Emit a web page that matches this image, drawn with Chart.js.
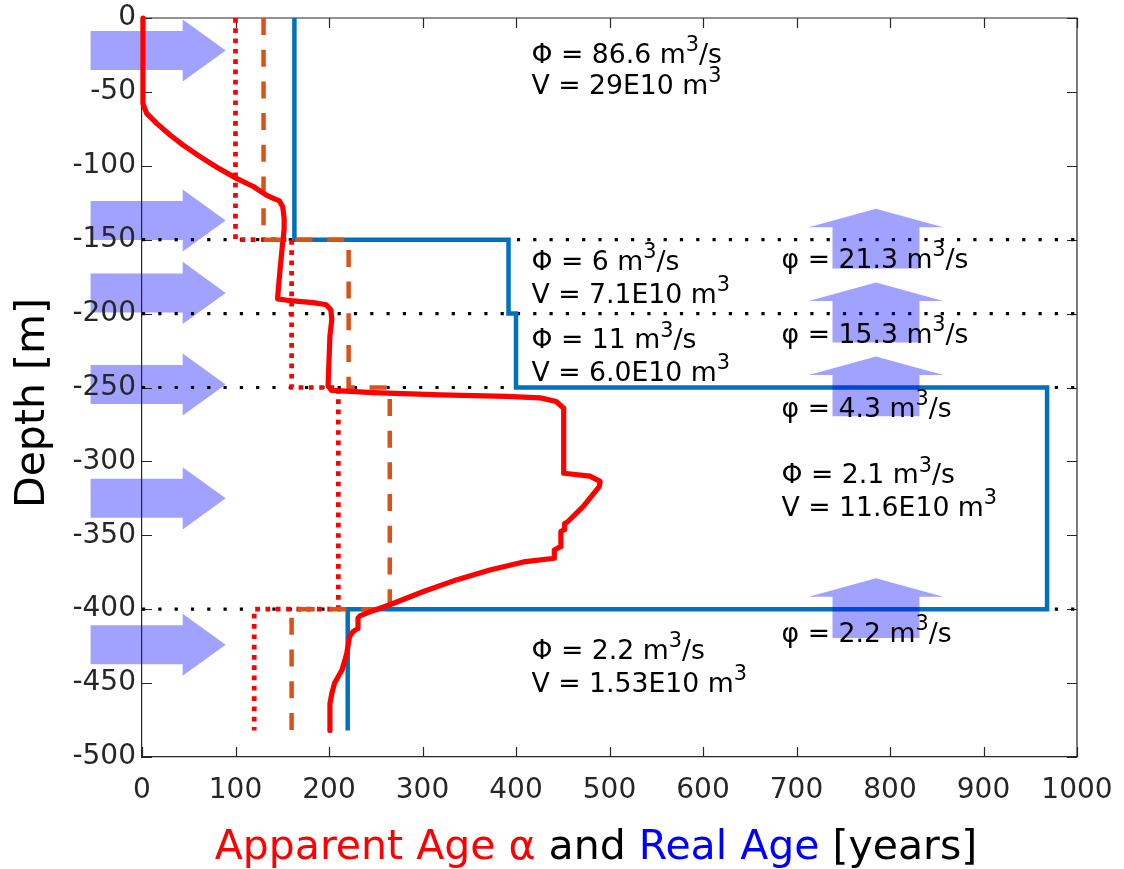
<!DOCTYPE html>
<html>
<head>
<meta charset="utf-8">
<script src="https://cdn.jsdelivr.net/npm/chart.js@4.4.1/dist/chart.umd.min.js"></script>
<style>
  html, body { margin: 0; padding: 0; background: #ffffff; }
  #wrap { position: relative; width: 1124px; height: 869px; }
</style>
</head>
<body>
<div id="wrap"><canvas id="chart"></canvas></div>
<script>
// ---- data -------------------------------------------------------------
// Apparent age profile (solid red)
const apparentAge = [1, 1, 5, 15.7, 30, 44, 62, 80, 101, 119, 133, 140.5, 147, 150.5, 152, 152, 150, 148, 146, 145, 155, 183, 197, 202, 203, 201, 199, 203, 247, 319, 390, 426, 443, 451, 451, 479, 490, 489, 472, 455, 452, 452, 448, 448, 441, 441, 408, 372, 337, 301, 265, 247, 233, 231, 231, 226, 222, 219, 214, 206, 203, 201, 201];
const apparentDepth = [0, -58, -64.5, -71.3, -79.2, -86, -93.8, -101, -108.5, -114, -119.8, -122, -123.8, -127.7, -135.5, -143, -155, -168, -182, -190, -191, -192.6, -194, -197.5, -204, -215, -249, -252, -253.5, -255, -256, -257, -259.5, -264, -308, -310, -313.5, -317, -330.5, -341, -342, -346, -347.5, -357.5, -360, -365.5, -368, -373.5, -380, -388, -397, -401, -404.5, -406, -413, -415, -418.5, -430, -441, -450, -457, -464, -482];

// Real age per layer (solid blue)
const realAge = [163, 163, 392, 392, 400, 400, 968, 968, 220, 220];
const realDepth = [0, -150, -150, -200, -200, -250, -250, -400, -400, -482];

// Layer-average apparent age (dotted red)
const meanApparentAge = [100, 100, 160, 160, 210, 210, 120, 120];
// Layer-average apparent age, second estimate (dashed orange)
const meanApparentAge2 = [130, 130, 221, 221, 265, 265, 160, 160];
const layerStepDepth = [0, -150, -150, -250, -250, -400, -400, -482];

// Layer interfaces
const interfaceDepths = [-150, -200, -250, -400];
const interfaceAgeSpan = [0, 1000];

// Lateral inflow arrows (depth of each arrow)
const inflowDepths = [-22, -137, -186, -248, -325, -424];
// Upward exchange arrows (at interfaces)
const upflowDepths = [-150, -200, -250, -400];
const upflowAge = 785;

// Layer annotations
const noteText = [
  'Φ = 86.6 m^3/s', 'V = 29E10 m^3',
  'Φ = 6 m^3/s', 'V = 7.1E10 m^3',
  'Φ = 11 m^3/s', 'V = 6.0E10 m^3',
  'Φ = 2.1 m^3/s', 'V = 11.6E10 m^3',
  'Φ = 2.2 m^3/s', 'V = 1.53E10 m^3',
  'φ = 21.3 m^3/s', 'φ = 15.3 m^3/s', 'φ = 4.3 m^3/s', 'φ = 2.2 m^3/s'
];
const noteAge = [416.5, 416.5, 416.5, 416.5, 416.5, 416.5, 684, 684, 416.5, 416.5, 684, 684, 684, 684];
const noteDepth = [-30.2, -51.4, -170.5, -192.6, -223.5, -245.4, -314.8, -336.7, -433.7, -455.8, -169.3, -220, -269.7, -421.9];

// Axis ticks
const xTicks = [0, 100, 200, 300, 400, 500, 600, 700, 800, 900, 1000];
const yTicks = [0, -50, -100, -150, -200, -250, -300, -350, -400, -450, -500];

// ---- helpers -----------------------------------------------------------
const FONT = '"DejaVu Sans", "Noto Sans", sans-serif';
const AXIS_COLOR = '#262626';
const ARROW_FILL = 'rgba(0, 0, 255, 0.37)';

function pairs(xs, ys) { return xs.map((x, i) => ({ x: x, y: ys[i] })); }

// Text with "^c" superscripts
function drawRich(ctx, text, x, y, size) {
  const parts = text.split(/\^(\S)/);
  let cx = x;
  ctx.textAlign = 'left';
  ctx.textBaseline = 'alphabetic';
  parts.forEach((p, i) => {
    const sup = i % 2 === 1;
    ctx.font = (sup ? size * 0.78 : size) + 'px ' + FONT;
    ctx.fillText(p, cx, sup ? y - size * 0.44 : y);
    cx += ctx.measureText(p).width;
  });
}

function polygon(ctx, pts) {
  ctx.beginPath();
  pts.forEach((p, i) => (i ? ctx.lineTo(p[0], p[1]) : ctx.moveTo(p[0], p[1])));
  ctx.closePath();
  ctx.fill();
}

const decor = {
  id: 'decor',
  beforeDraw(chart) {
    // horizontal inflow arrows
    const ctx = chart.ctx, xs = chart.scales.x, ys = chart.scales.y;
    const X = v => xs.getPixelForValue(v), Y = v => ys.getPixelForValue(v);
    ctx.save();
    ctx.fillStyle = ARROW_FILL;
    inflowDepths.forEach(d => {
      polygon(ctx, [
        [X(-55), Y(d + 13.2)], [X(43.5), Y(d + 13.2)], [X(43.5), Y(d + 21)],
        [X(89.5), Y(d)],
        [X(43.5), Y(d - 21)], [X(43.5), Y(d - 13.2)], [X(-55), Y(d - 13.2)]
      ]);
    });
    ctx.restore();
  },
  beforeDatasetsDraw(chart) {
    // box outline and inward ticks
    const ctx = chart.ctx, a = chart.chartArea, xs = chart.scales.x, ys = chart.scales.y;
    ctx.save();
    ctx.strokeStyle = AXIS_COLOR;
    ctx.lineWidth = 1.2;
    ctx.beginPath();
    ctx.moveTo(a.left, a.top); ctx.lineTo(a.right, a.top); ctx.lineTo(a.right, a.bottom);
    const tl = 10;
    xTicks.forEach(v => {
      const px = Math.round(xs.getPixelForValue(v)) + 0.5;
      ctx.moveTo(px, a.bottom); ctx.lineTo(px, a.bottom - tl);
      ctx.moveTo(px, a.top); ctx.lineTo(px, a.top + tl);
    });
    yTicks.forEach(v => {
      const py = Math.round(ys.getPixelForValue(v)) + 0.5;
      ctx.moveTo(a.left, py); ctx.lineTo(a.left + tl, py);
      ctx.moveTo(a.right, py); ctx.lineTo(a.right - tl, py);
    });
    ctx.stroke();
    ctx.restore();
  },
  afterDatasetsDraw(chart) {
    const ctx = chart.ctx, xs = chart.scales.x, ys = chart.scales.y;
    const X = v => xs.getPixelForValue(v), Y = v => ys.getPixelForValue(v);
    ctx.save();
    // upward exchange arrows
    ctx.fillStyle = ARROW_FILL;
    upflowDepths.forEach(d => {
      polygon(ctx, [
        [X(upflowAge - 46.5), Y(d - 19.5)], [X(upflowAge + 46.5), Y(d - 19.5)],
        [X(upflowAge + 46.5), Y(d + 8.5)], [X(upflowAge + 72), Y(d + 8.5)],
        [X(upflowAge), Y(d + 21)],
        [X(upflowAge - 72), Y(d + 8.5)], [X(upflowAge - 46.5), Y(d + 8.5)]
      ]);
    });
    // annotations
    ctx.fillStyle = '#000000';
    noteText.forEach((t, i) => drawRich(ctx, t, X(noteAge[i]), Y(noteDepth[i]), 26.7));
    ctx.restore();
  },
  afterDraw(chart) {
    const ctx = chart.ctx;
    ctx.save();
    // y axis title
    ctx.font = '41px ' + FONT;
    ctx.fillStyle = '#000000';
    ctx.textAlign = 'center';
    ctx.textBaseline = 'alphabetic';
    ctx.translate(44, 403);
    ctx.rotate(-Math.PI / 2);
    ctx.fillText('Depth [m]', 0, 0);
    ctx.restore();
    // x axis title in several colours
    ctx.save();
    ctx.font = '41px ' + FONT;
    ctx.textBaseline = 'alphabetic';
    ctx.textAlign = 'left';
    const segs = [['Apparent Age α', '#ff0000'], [' and ', '#000000'], ['Real Age', '#0000ff'], [' [years]', '#000000']];
    const total = segs.reduce((s, g) => s + ctx.measureText(g[0]).width, 0);
    let cx = 596 - total / 2;
    segs.forEach(g => { ctx.fillStyle = g[1]; ctx.fillText(g[0], cx, 859); cx += ctx.measureText(g[0]).width; });
    ctx.restore();
  }
};

// ---- chart -------------------------------------------------------------
const datasets = [];
// drawn bottom to top: higher order values are drawn first
interfaceDepths.forEach(d => datasets.push({
  data: pairs(interfaceAgeSpan, [d, d]),
  borderColor: '#000000', borderWidth: 3.2, borderDash: [3.2, 13.1], order: 10
}));
datasets.push({ data: pairs(realAge, realDepth), borderColor: '#0072BD', borderWidth: 4.5, order: 4 });
datasets.push({ data: pairs(meanApparentAge, layerStepDepth), borderColor: '#ff0000', borderWidth: 4.7, borderDash: [4.7, 5.6], order: 3 });
datasets.push({ data: pairs(meanApparentAge2, layerStepDepth), borderColor: '#D95319', borderWidth: 4.5, borderDash: [17, 14.7], order: 2 });
datasets.push({ data: pairs(apparentAge, apparentDepth), borderColor: '#ff0000', borderWidth: 5.2, borderJoinStyle: 'round', borderCapStyle: 'butt', order: 1 });
datasets.forEach(ds => { ds.pointRadius = 0; ds.tension = 0; ds.fill = false; ds.clip = false; });

new Chart(document.getElementById('chart'), {
  type: 'line',
  data: { datasets: datasets },
  options: {
    responsive: true,
    maintainAspectRatio: false,
    animation: false,
    layout: { padding: { top: 18, right: 47, left: 0, bottom: 0 } },
    plugins: { legend: { display: false }, tooltip: { enabled: false } },
    scales: {
      x: {
        type: 'linear', min: 0, max: 1000,
        afterBuildTicks: s => { s.ticks = xTicks.map(v => ({ value: v })); },
        afterFit: s => { s.height = 112; s.paddingLeft = 0; s.paddingRight = 0; },
        grid: { display: false, drawTicks: false },
        border: { display: true, color: AXIS_COLOR, width: 1.2 },
        ticks: { autoSkip: false, maxRotation: 0, padding: 17, color: AXIS_COLOR,
                 font: { family: FONT, size: 28 }, callback: v => String(v) }
      },
      y: {
        type: 'linear', min: -500, max: 0,
        afterBuildTicks: s => { s.ticks = yTicks.map(v => ({ value: v })); },
        afterFit: s => { s.width = 142; s.paddingTop = 0; s.paddingBottom = 0; },
        grid: { display: false, drawTicks: false },
        border: { display: true, color: AXIS_COLOR, width: 1.2 },
        ticks: { autoSkip: false, padding: 6, color: AXIS_COLOR,
                 font: { family: FONT, size: 28 }, callback: v => String(v) }
      }
    }
  },
  plugins: [decor]
});
</script>
</body>
</html>
